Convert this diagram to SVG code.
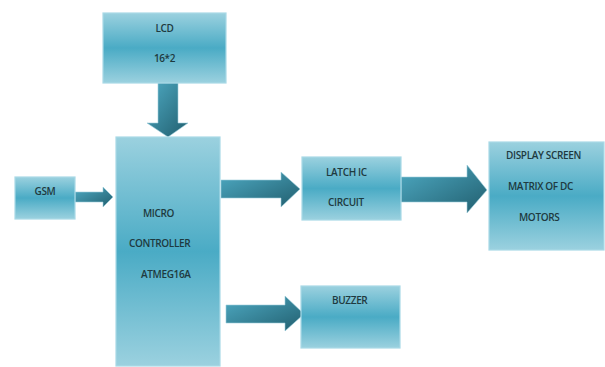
<svg xmlns="http://www.w3.org/2000/svg" width="605" height="367" viewBox="0 0 605 367">
<defs>
<linearGradient id="box" x1="0" y1="0" x2="0" y2="1">
<stop offset="0" stop-color="#9bd1df"/>
<stop offset="0.5" stop-color="#4aabc5"/>
<stop offset="1" stop-color="#9bd1df"/>
</linearGradient>
<linearGradient id="arr" x1="0" y1="0" x2="1" y2="1">
<stop offset="0" stop-color="#4eaac3"/>
<stop offset="1" stop-color="#215e6e"/>
</linearGradient>
</defs>
<style>
.box{fill:url(#box);stroke:#a9d9e6;stroke-width:1.2}
.arrow{fill:url(#arr);stroke:#9ccfdc;stroke-width:0.6}
text{font-family:"Open Sans","Liberation Sans",sans-serif;font-size:10px;font-weight:600;fill:#1e3a40;letter-spacing:-0.35px}
</style>
<rect width="605" height="367" fill="#ffffff"/>
<g id="connectors">
<path class="arrow" d="M158,83 L178,83 L178,123 L188,123 L168,137 L147,123 L158,123 Z"/>
<path class="arrow" d="M75,192 L103,192 L103,187 L113,197 L103,207 L103,202 L75,202 Z"/>
<path class="arrow" d="M221,180 L281,180 L281,172 L300,189 L281,207 L281,198 L221,198 Z"/>
<path class="arrow" d="M401,177 L467,177 L467,165 L487,190 L467,213 L467,202 L401,202 Z"/>
<path class="arrow" d="M226,305 L285,305 L285,296 L304,314 L285,331 L285,323 L226,323 Z"/>
</g>
<g id="lcd">
<rect class="box" x="103" y="13" width="123" height="70"/>
<text x="164.5" y="32" text-anchor="middle">LCD</text>
<text x="164.5" y="62" text-anchor="middle">16*2</text>
</g>
<g id="gsm">
<rect class="box" x="15" y="177" width="60" height="42"/>
<text x="45" y="195" text-anchor="middle">GSM</text>
</g>
<g id="mc">
<rect class="box" x="116" y="137" width="104" height="229"/>
<text x="143" y="217">MICRO</text>
<text x="129" y="247">CONTROLLER</text>
<text x="141" y="278">ATMEG16A</text>
</g>
<g id="latch">
<rect class="box" x="302" y="157" width="99" height="63"/>
<text x="326" y="176">LATCH IC</text>
<text x="328" y="206">CIRCUIT</text>
</g>
<g id="display">
<rect class="box" x="489" y="142" width="115" height="108"/>
<text x="506" y="159">DISPLAY SCREEN</text>
<text x="508" y="190">MATRIX OF DC</text>
<text x="519" y="221">MOTORS</text>
</g>
<g id="buzzer">
<rect class="box" x="301" y="286" width="99" height="62"/>
<text x="332" y="304">BUZZER</text>
</g>
</svg>
